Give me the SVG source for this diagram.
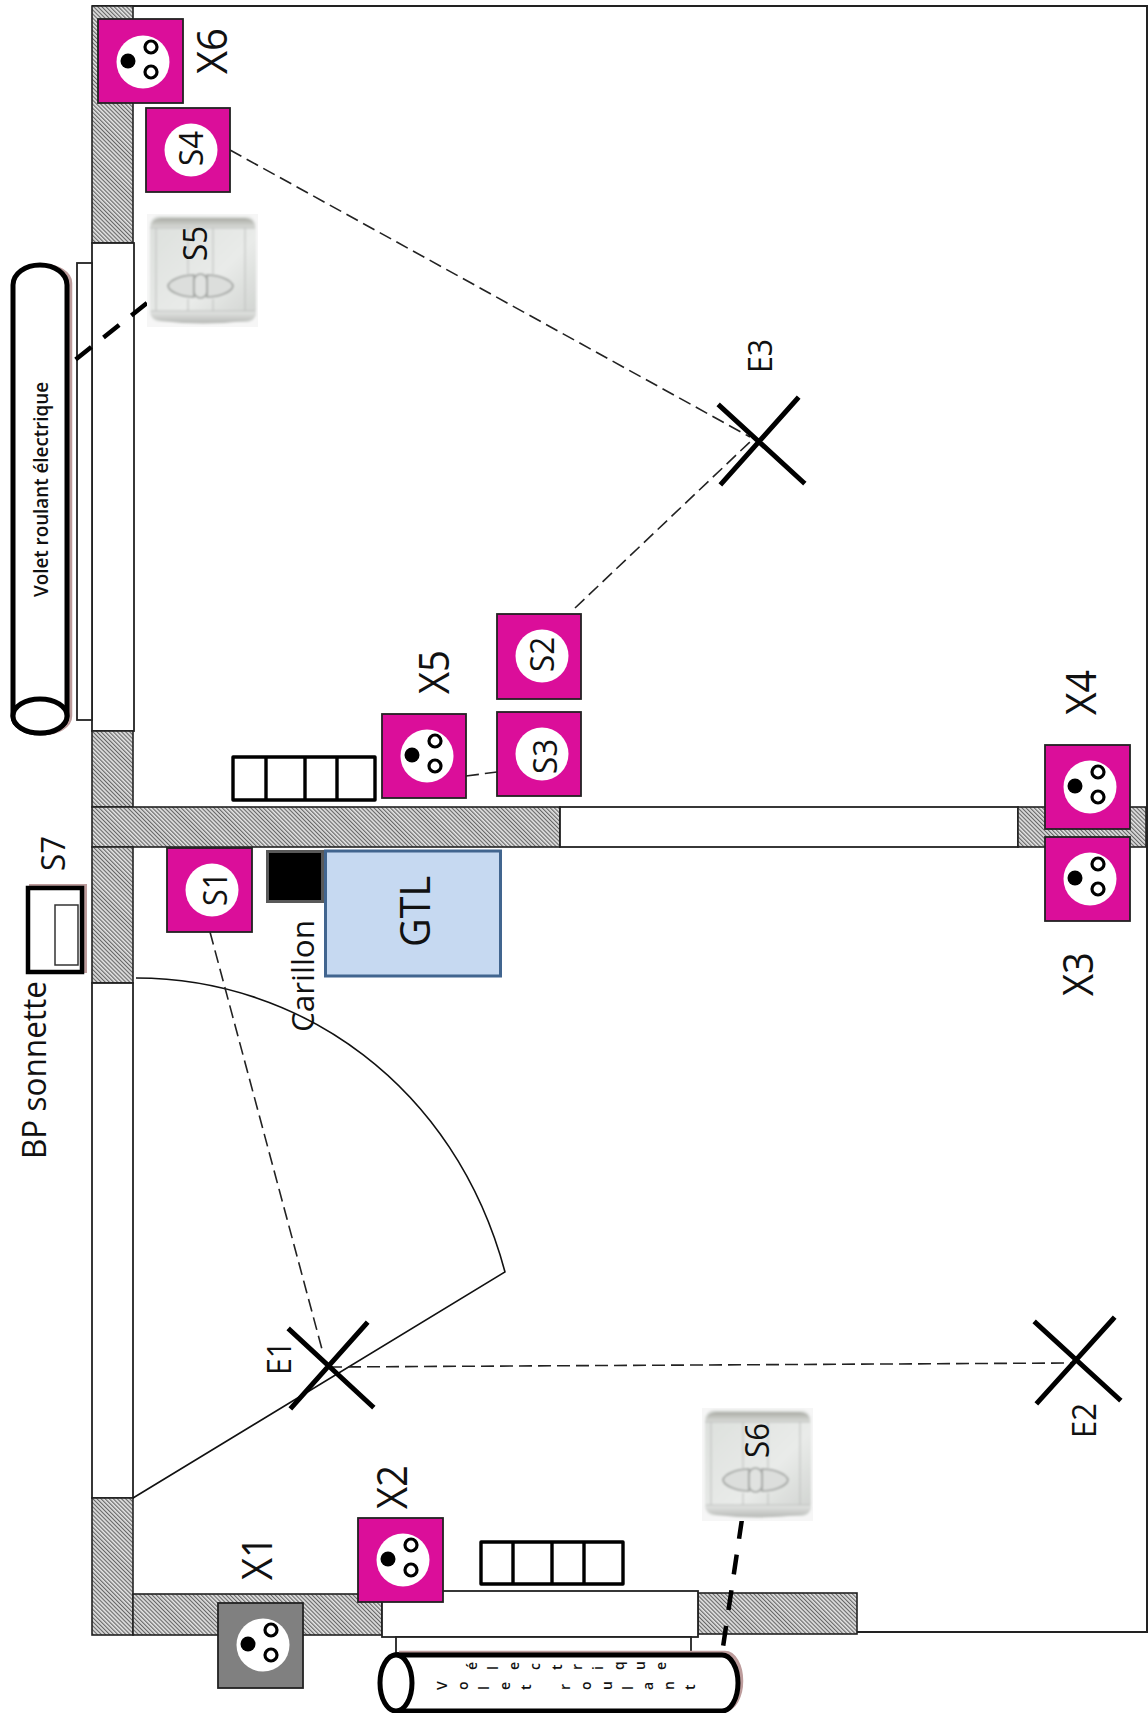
<svg xmlns="http://www.w3.org/2000/svg" width="1148" height="1713" viewBox="0 0 1148 1713">
<style>
text{font-family:"Open Sans","Noto Sans","DejaVu Sans",sans-serif;fill:#111}
.wall{fill:url(#hatch);stroke:#222;stroke-width:1.6}
.open{fill:#fff;stroke:#222;stroke-width:1.8}
.pink{fill:#DB0E9A;stroke:#222;stroke-width:1.8}
.grey{fill:#808080;stroke:#222;stroke-width:1.8}
.disc{fill:#fff}
.dash{fill:none;stroke:#222;stroke-width:1.6;stroke-dasharray:13 6}
.thick{fill:none;stroke:#000;stroke-width:4.5}
.cross{fill:none;stroke:#000;stroke-width:5;stroke-linecap:square}
.rad{fill:#fff;stroke:#000;stroke-width:3.4;stroke-linejoin:round}
.tube{fill:#fff;stroke:#000;stroke-width:5}
.shade{fill:none;stroke:#bd9c9c;stroke-width:4.5}
.door{fill:none;stroke:#111;stroke-width:1.6}
.small{font-weight:600}
</style>
<defs>
<pattern id="hatch" width="2.9" height="2.9" patternUnits="userSpaceOnUse" patternTransform="rotate(-45)">
<rect width="2.9" height="2.9" fill="#e2e2e2"/><rect width="1.15" height="2.9" fill="#666"/>
</pattern>
<linearGradient id="face" x1="0" y1="0" x2="1" y2="1"><stop offset="0" stop-color="#dcdfdc"/><stop offset="0.6" stop-color="#e9ebe9"/><stop offset="1" stop-color="#cfd2cf"/></linearGradient>
<linearGradient id="topband" x1="0" y1="0" x2="0" y2="1"><stop offset="0" stop-color="#a9aaa4"/><stop offset="1" stop-color="#dcdedb"/></linearGradient>
<linearGradient id="lowband" x1="0" y1="0" x2="0" y2="1"><stop offset="0" stop-color="#e4e6e4"/><stop offset="1" stop-color="#b7b9b6"/></linearGradient>
<filter id="soft" x="-5%" y="-5%" width="110%" height="110%"><feGaussianBlur stdDeviation="0.8"/></filter>
<g id="pins">
<circle class="disc" r="26.5"/>
<circle cx="-15" cy="-1" r="7.500" fill="#000"/>
<circle cx="8" cy="-15" r="6" fill="#fff" stroke="#000" stroke-width="3.200"/>
<circle cx="8" cy="10" r="6" fill="#fff" stroke="#000" stroke-width="3.200"/>
</g>
<g id="switch">
<rect width="111" height="113" fill="#f6f6f6"/>
<g filter="url(#soft)">
<rect x="3" y="2" width="106" height="106" rx="9" fill="url(#face)"/>
<path d="M4,14 Q4,4 14,4 H98 Q108,4 108,14 Z" fill="url(#topband)"/>
<path d="M3,97 H109 Q108,106 98,107 Q56,112 14,107 Q4,106 3,97 Z" fill="url(#lowband)"/>
<path d="M3,14 H108 M4,97 H108 M9,14 V97 M41,14 V60 M41,85 V97 M66,14 V60 M66,85 V97 M98,14 V97" fill="none" stroke="#bcbebc" stroke-width="1"/>
<path d="M21,72 C22,66 35,61 47,61 V83 C35,83 22,78 21,72 Z M60,61 C72,61 85,66 86,72 C85,78 72,83 60,83 Z" fill="#dcdedc" stroke="#9ea19e" stroke-width="1.600"/>
<rect x="47" y="60" width="13" height="24" rx="6.500" fill="#e0e2e0" stroke="#9ea19e" stroke-width="1.600"/>
</g>
</g>
</defs>
<rect width="1148" height="1713" fill="#fff"/>

<g id="room">
<path d="M92,6 H1147 V1632 H857" fill="none" stroke="#222" stroke-width="2"/>
<rect class="wall" x="92" y="6" width="41" height="237"/>
<rect class="open" x="92" y="243" width="42" height="488"/>
<rect class="wall" x="92" y="731" width="41" height="76"/>
<rect class="wall" x="92" y="807" width="468" height="40"/>
<rect class="open" x="560" y="807" width="458" height="40"/>
<rect class="wall" x="1018" y="807" width="128" height="40"/>
<rect class="wall" x="92" y="847" width="41" height="136"/>
<rect class="open" x="92" y="983" width="41" height="515"/>
<rect class="wall" x="92" y="1498" width="41" height="137"/>
<rect class="wall" x="133" y="1594" width="249" height="41"/>
<rect class="wall" x="698" y="1593" width="159" height="41"/>
<rect class="open" x="382" y="1591" width="316" height="46"/>
<rect class="open" x="396" y="1637" width="295" height="16"/>
<rect class="open" x="77" y="263" width="15" height="457"/>
</g>

<g id="door">
<path class="door" d="M136,978 C300,978 455,1085 505,1272 L133,1498"/>
</g>

<g id="connectors">
<path class="dash" d="M230,150 L750,437"/>
<path class="dash" d="M575,608 L752,440"/>
<path class="dash" d="M210,932 L323,1353"/>
<path class="dash" d="M329,1367 L1072,1363"/>
<path class="dash" d="M466,776 L497,772"/>
<path class="thick" stroke-dasharray="20 15.5" d="M147,303 L75,360"/>
<path class="thick" stroke-dasharray="20 16" d="M742,1519 L723,1647"/>
</g>

<g id="shutter-top">
<path class="shade" d="M16,716 V283 A27,17 0 0 1 70,283 V716 A27,17 0 0 1 16,716"/>
<path class="tube" d="M13,716 V285 A27,20 0 0 1 67,285 V716 A27,17 0 0 1 13,716 Z"/>
<ellipse class="tube" cx="40" cy="716" rx="27" ry="17"/>
<text class="small" transform="translate(48,597) rotate(-90)" font-size="20" textLength="215" lengthAdjust="spacingAndGlyphs">Volet roulant électrique</text>
</g>

<g id="shutter-bottom">
<path class="shade" d="M399,1653 H725 A16,28 0 0 1 725,1709"/>
<path class="tube" d="M396,1655 H722 A16,28 0 0 1 722,1711 H396 Z"/>
<ellipse class="tube" cx="396" cy="1683" rx="16" ry="28"/>
<text class="small" font-size="14" rotate="-90" y="1670" x="477 498 519 540 562 582 603 624 645 666">électrique</text>
<text class="small" font-size="14" rotate="-90" y="1690" x="447 468 489 510 531 570 591 612 633 653 674 695">Voletroulant</text>
</g>

<g id="radiator-1"><rect class="rad" x="233" y="757" width="142" height="43"/><path class="rad" d="M266,757 V800 M305,757 V800 M337,757 V800"/></g>
<g id="radiator-2"><rect class="rad" x="481" y="1542" width="142" height="42"/><path class="rad" d="M513,1542 V1584 M552,1542 V1584 M584,1542 V1584"/></g>

<g id="X6"><rect class="pink" x="98" y="19" width="85" height="84"/><use href="#pins" x="143" y="62"/><text transform="translate(227,74) rotate(-90)" font-size="42" textLength="46" lengthAdjust="spacingAndGlyphs">X6</text></g>
<g id="S4"><rect class="pink" x="146" y="108" width="84" height="84"/><circle class="disc" cx="191" cy="150" r="26.5"/><text transform="translate(203,166) rotate(-90)" font-size="33" textLength="35" lengthAdjust="spacingAndGlyphs">S4</text></g>
<g id="S5"><use href="#switch" x="147" y="214"/><text transform="translate(207,261) rotate(-90)" font-size="33" textLength="35" lengthAdjust="spacingAndGlyphs">S5</text></g>
<g id="S6"><use href="#switch" x="702" y="1408"/><text transform="translate(769,1458) rotate(-90)" font-size="33" textLength="35" lengthAdjust="spacingAndGlyphs">S6</text></g>
<g id="X5"><rect class="pink" x="382" y="714" width="84" height="84"/><use href="#pins" x="427" y="756"/><text transform="translate(449,694) rotate(-90)" font-size="42" textLength="44" lengthAdjust="spacingAndGlyphs">X5</text></g>
<g id="S2"><rect class="pink" x="497" y="614" width="84" height="85"/><circle class="disc" cx="542" cy="656" r="26.5"/><text transform="translate(554,672) rotate(-90)" font-size="33" textLength="35" lengthAdjust="spacingAndGlyphs">S2</text></g>
<g id="S3"><rect class="pink" x="497" y="712" width="84" height="84"/><circle class="disc" cx="542" cy="754" r="26.5"/><text transform="translate(557,774) rotate(-90)" font-size="33" textLength="35" lengthAdjust="spacingAndGlyphs">S3</text></g>
<g id="X4"><rect class="pink" x="1045" y="745" width="85" height="84"/><use href="#pins" x="1090" y="787"/><text transform="translate(1096,715) rotate(-90)" font-size="42" textLength="45" lengthAdjust="spacingAndGlyphs">X4</text></g>
<g id="X3"><rect class="pink" x="1045" y="837" width="85" height="84"/><use href="#pins" x="1090" y="879"/><text transform="translate(1093,996) rotate(-90)" font-size="42" textLength="44" lengthAdjust="spacingAndGlyphs">X3</text></g>
<g id="S1"><rect class="pink" x="167" y="848" width="85" height="84"/><circle class="disc" cx="212" cy="890" r="26.5"/><text transform="translate(227,906) rotate(-90)" font-size="33" textLength="34" lengthAdjust="spacingAndGlyphs">S1</text></g>
<g id="X2"><rect class="pink" x="358" y="1518" width="85" height="84"/><use href="#pins" x="403" y="1560"/><text transform="translate(407,1509) rotate(-90)" font-size="42" textLength="44" lengthAdjust="spacingAndGlyphs">X2</text></g>
<g id="X1"><rect class="grey" x="218" y="1603" width="85" height="85"/><use href="#pins" x="263" y="1645"/><text transform="translate(272,1580) rotate(-90)" font-size="42" textLength="44" lengthAdjust="spacingAndGlyphs">X1</text></g>

<g id="Carillon"><rect x="267.500" y="851.500" width="55" height="50" fill="#000" stroke="#595959" stroke-width="3"/><text transform="translate(314,1032) rotate(-90)" font-size="31" textLength="112" lengthAdjust="spacingAndGlyphs">Carillon</text></g>
<g id="GTL"><rect x="325.500" y="851" width="175" height="125" fill="#C6D9F1" stroke="#41658F" stroke-width="3"/><text transform="translate(430,947) rotate(-90)" font-size="42" textLength="71" lengthAdjust="spacingAndGlyphs">GTL</text></g>

<g id="S7">
<rect x="31" y="886" width="54" height="85" fill="none" stroke="#bd9c9c" stroke-width="4"/>
<rect x="28" y="888" width="54" height="84" fill="#fff" stroke="#000" stroke-width="4.500"/>
<rect x="55" y="905" width="23" height="60" fill="#fff" stroke="#333" stroke-width="1.500"/>
<text transform="translate(65,871) rotate(-90)" font-size="33" textLength="35" lengthAdjust="spacingAndGlyphs">S7</text>
<text transform="translate(46,1159) rotate(-90)" font-size="33" textLength="178" lengthAdjust="spacingAndGlyphs">BP sonnette</text>
</g>

<g id="E3"><path class="cross" d="M720,406 L803,482 M797,399 L722,483"/><text transform="translate(772,373) rotate(-90)" font-size="33" textLength="34" lengthAdjust="spacingAndGlyphs">E3</text></g>
<g id="E1"><path class="cross" d="M290,1330 L372,1406 M366,1324 L292,1407"/><text transform="translate(291,1375) rotate(-90)" font-size="33" textLength="34" lengthAdjust="spacingAndGlyphs">E1</text></g>
<g id="E2"><path class="cross" d="M1036,1323 L1119,1399 M1113,1319 L1038,1402"/><text transform="translate(1096,1438) rotate(-90)" font-size="33" textLength="35" lengthAdjust="spacingAndGlyphs">E2</text></g>
</svg>
